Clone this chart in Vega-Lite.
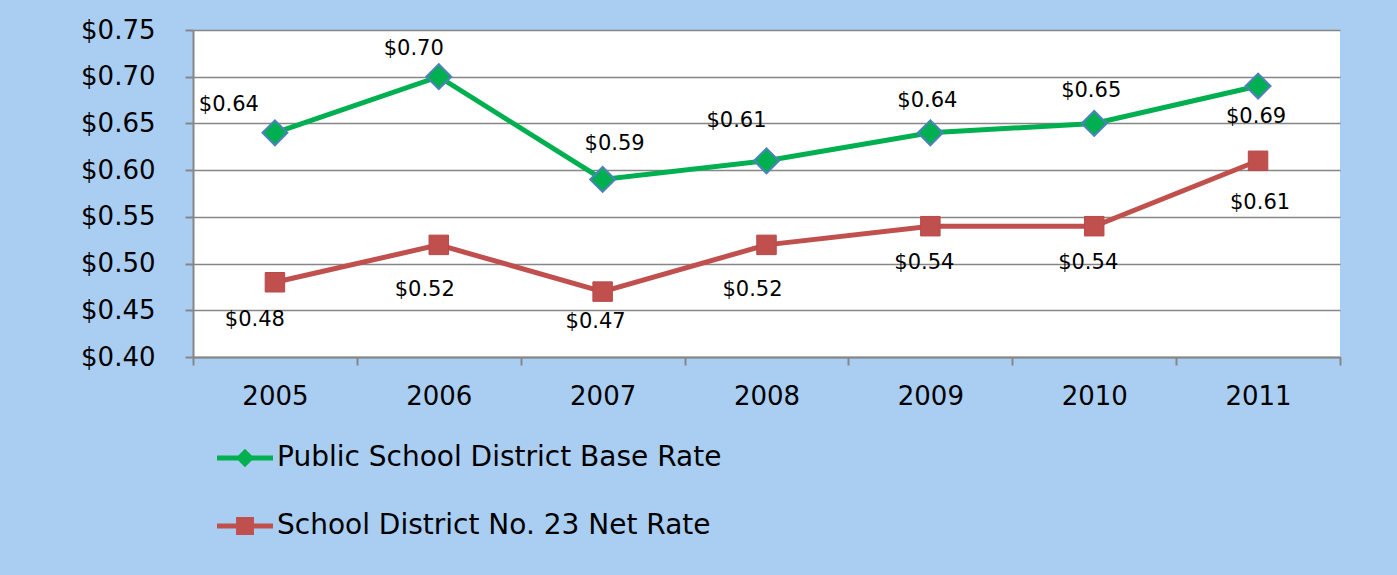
{
  "$schema": "https://vega.github.io/schema/vega-lite/v6.json",
  "width": 1147,
  "height": 327,
  "autosize": {"type": "none"},
  "padding": {"left": 193, "top": 30, "right": 57, "bottom": 218},
  "background": "#aacdf2",
  "config": {"view": {"fill": "white", "stroke": null}, "font": "DejaVu Sans", "text": {"fontSize": 21, "color": "black"}},
  "data": {
    "values": [
      {"year": "2005", "series": "Public School District Base Rate", "rate": 0.64},
      {"year": "2006", "series": "Public School District Base Rate", "rate": 0.70},
      {"year": "2007", "series": "Public School District Base Rate", "rate": 0.59},
      {"year": "2008", "series": "Public School District Base Rate", "rate": 0.61},
      {"year": "2009", "series": "Public School District Base Rate", "rate": 0.64},
      {"year": "2010", "series": "Public School District Base Rate", "rate": 0.65},
      {"year": "2011", "series": "Public School District Base Rate", "rate": 0.69},
      {"year": "2005", "series": "School District No. 23 Net Rate", "rate": 0.48},
      {"year": "2006", "series": "School District No. 23 Net Rate", "rate": 0.52},
      {"year": "2007", "series": "School District No. 23 Net Rate", "rate": 0.47},
      {"year": "2008", "series": "School District No. 23 Net Rate", "rate": 0.52},
      {"year": "2009", "series": "School District No. 23 Net Rate", "rate": 0.54},
      {"year": "2010", "series": "School District No. 23 Net Rate", "rate": 0.54},
      {"year": "2011", "series": "School District No. 23 Net Rate", "rate": 0.61}
    ]
  },
  "encoding": {
    "x": {
      "field": "year", "type": "ordinal",
      "scale": {"paddingInner": 0, "paddingOuter": 0},
      "axis": {"title": null, "labelAngle": 0, "labelFontSize": 26, "labelColor": "black", "labelPadding": 18,
               "domainColor": "#868686", "domainWidth": 2, "tickColor": "#868686", "tickWidth": 2, "tickSize": 8,
               "tickBand": "extent", "grid": false}
    },
    "y": {
      "field": "rate", "type": "quantitative",
      "scale": {"domain": [0.4, 0.75], "nice": false, "zero": false},
      "axis": {"title": null, "format": "$.2f", "values": [0.4, 0.45, 0.5, 0.55, 0.6, 0.65, 0.7, 0.75],
               "labelFontSize": 26, "labelColor": "black", "labelPadding": 30,
               "domainColor": "#868686", "domainWidth": 2, "tickColor": "#868686", "tickWidth": 2, "tickSize": 8,
               "grid": true, "gridColor": "#868686", "gridWidth": 1.5}
    }
  },
  "layer": [
    {
      "mark": {"type": "line", "strokeWidth": 5},
      "encoding": {
        "color": {"field": "series", "type": "nominal",
                  "scale": {"domain": ["Public School District Base Rate", "School District No. 23 Net Rate"], "range": ["#00b050", "#c0504d"]},
                  "legend": {"title": null, "orient": "none", "legendX": 24, "legendY": 400, "direction": "vertical",
                            "padding": 0, "labelFontSize": 28, "labelColor": "black", "labelLimit": 800, "labelOffset": 4,
                            "symbolSize": 3136, "rowPadding": 26,
                            "encode": {"symbols": {"update": {
                              "shape": {"signal": "datum.value == 'Public School District Base Rate' ? 'M-1,-0.09H1V0.09H-1Z M0,-0.33L0.33,0L0,0.33L-0.33,0Z' : 'M-1,-0.09H1V0.09H-1Z M-0.32,-0.32H0.32V0.32H-0.32Z'"},
                              "fill": {"signal": "datum.value == 'Public School District Base Rate' ? '#00b050' : '#c0504d'"},
                              "strokeWidth": {"value": 0},
                              "opacity": {"value": 1}
                            }}}}}
      }
    },
    {
      "transform": [{"filter": "datum.series == 'Public School District Base Rate'"}],
      "mark": {"type": "point", "shape": "diamond", "size": 620, "filled": true, "fill": "#00b050", "stroke": "#4f81bd", "strokeWidth": 2, "opacity": 1}
    },
    {
      "transform": [{"filter": "datum.series == 'School District No. 23 Net Rate'"}],
      "mark": {"type": "point", "shape": "square", "size": 380, "filled": true, "fill": "#c0504d", "stroke": "#b9484a", "strokeWidth": 1, "opacity": 1}
    },
    {
      "transform": [{"filter": "datum.series == 'Public School District Base Rate' && datum.year == '2005'"}],
      "mark": {"type": "text", "dx": -46, "dy": -28},
      "encoding": {"text": {"field": "rate", "type": "quantitative", "format": "$.2f"}}
    },
    {
      "transform": [{"filter": "datum.series == 'Public School District Base Rate' && datum.year == '2006'"}],
      "mark": {"type": "text", "dx": -25, "dy": -28},
      "encoding": {"text": {"field": "rate", "type": "quantitative", "format": "$.2f"}}
    },
    {
      "transform": [{"filter": "datum.series == 'Public School District Base Rate' && datum.year == '2007'"}],
      "mark": {"type": "text", "dx": 12, "dy": -35},
      "encoding": {"text": {"field": "rate", "type": "quantitative", "format": "$.2f"}}
    },
    {
      "transform": [{"filter": "datum.series == 'Public School District Base Rate' && datum.year == '2008'"}],
      "mark": {"type": "text", "dx": -30, "dy": -40},
      "encoding": {"text": {"field": "rate", "type": "quantitative", "format": "$.2f"}}
    },
    {
      "transform": [{"filter": "datum.series == 'Public School District Base Rate' && (datum.year == '2009' || datum.year == '2010')"}],
      "mark": {"type": "text", "dx": -3, "dy": -32},
      "encoding": {"text": {"field": "rate", "type": "quantitative", "format": "$.2f"}}
    },
    {
      "transform": [{"filter": "datum.series == 'Public School District Base Rate' && datum.year == '2011'"}],
      "mark": {"type": "text", "dx": -2, "dy": 31},
      "encoding": {"text": {"field": "rate", "type": "quantitative", "format": "$.2f"}}
    },
    {
      "transform": [{"filter": "datum.series == 'School District No. 23 Net Rate' && datum.year == '2005'"}],
      "mark": {"type": "text", "dx": -20, "dy": 38},
      "encoding": {"text": {"field": "rate", "type": "quantitative", "format": "$.2f"}}
    },
    {
      "transform": [{"filter": "datum.series == 'School District No. 23 Net Rate' && (datum.year == '2006' || datum.year == '2008')"}],
      "mark": {"type": "text", "dx": -14, "dy": 45},
      "encoding": {"text": {"field": "rate", "type": "quantitative", "format": "$.2f"}}
    },
    {
      "transform": [{"filter": "datum.series == 'School District No. 23 Net Rate' && datum.year == '2007'"}],
      "mark": {"type": "text", "dx": -7, "dy": 30},
      "encoding": {"text": {"field": "rate", "type": "quantitative", "format": "$.2f"}}
    },
    {
      "transform": [{"filter": "datum.series == 'School District No. 23 Net Rate' && (datum.year == '2009' || datum.year == '2010')"}],
      "mark": {"type": "text", "dx": -6, "dy": 37},
      "encoding": {"text": {"field": "rate", "type": "quantitative", "format": "$.2f"}}
    },
    {
      "transform": [{"filter": "datum.series == 'School District No. 23 Net Rate' && datum.year == '2011'"}],
      "mark": {"type": "text", "dx": 2, "dy": 42},
      "encoding": {"text": {"field": "rate", "type": "quantitative", "format": "$.2f"}}
    }
  ]
}
